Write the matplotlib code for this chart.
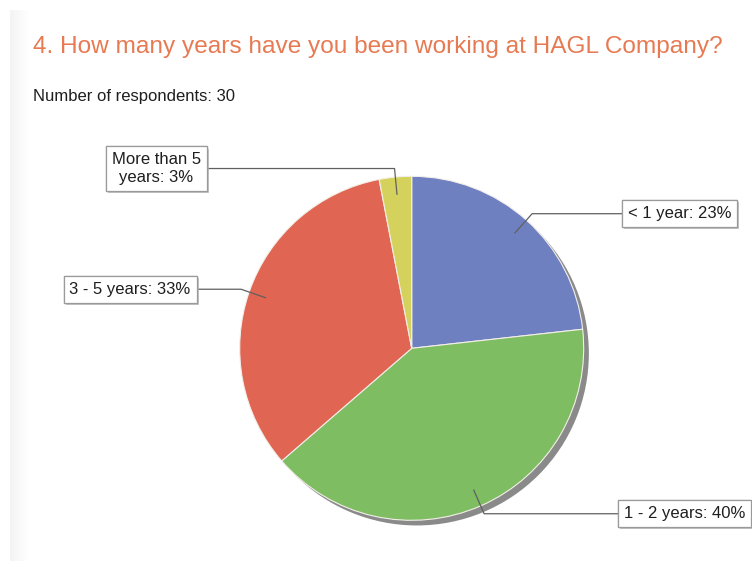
import numpy as np
import matplotlib
matplotlib.use("Agg")
from matplotlib import pyplot as plt
from matplotlib import patheffects
from matplotlib.patches import Circle

plt.rcParams['font.family'] = ['Liberation Sans', 'DejaVu Sans']

title = '4. How many years have you been working at HAGL Company?'
subtitle = 'Number of respondents: 30'
categories = ['< 1 year', '1 - 2 years', '3 - 5 years', 'More than 5\nyears']
percents = [23, 40, 33, 3]
colors = ['#6f80c1', '#7fbd62', '#e06552', '#d4d25c']

W, H = 752, 561
cx, cy, R = 411.7, 348.3, 172.0   # pie centre and radius in pixels

fig = plt.figure(figsize=(W / 100, H / 100), dpi=100, facecolor='w')

# faint grey strip down the left side
strip = fig.add_axes([10 / W, 0, 20 / W, (H - 10) / H])
strip.imshow(np.linspace(0.955, 1.0, 50)[None, :], cmap='gray', vmin=0, vmax=1,
             aspect='auto', extent=(0, 1, 0, 1))
strip.axis('off')

fig.text(33 / W, 1 - 46.5 / H, title, fontsize=17.6, color='#e77a52', va='center', ha='left')
fig.text(33 / W, 1 - 96 / H, subtitle, fontsize=12, color='#1e1e1e', va='center', ha='left')

ax = fig.add_axes([(cx - R) / W, (H - cy - R) / H, 2 * R / W, 2 * R / H])
shadow = Circle((0.03, -0.03), 1.0, facecolor='#8a8a8a', edgecolor='none', zorder=0)
shadow.set_clip_on(False)
ax.add_patch(shadow)
wedges, _ = ax.pie(percents, colors=colors, startangle=90, counterclock=False,
                   wedgeprops=dict(edgecolor='#f3efe9', linewidth=0.8, zorder=1))
ax.set_xlim(-1, 1)
ax.set_ylim(-1, 1)
ax.axis('off')

# label box anchors (x in pie units) and alignment
label_x = [1.255, 1.232, -1.285, -1.484]
label_ha = ['left', 'left', 'right', 'center']

box = dict(boxstyle='square,pad=0.35', facecolor='white', edgecolor='#9a9a9a', linewidth=0.9,
           path_effects=[patheffects.withSimplePatchShadow(offset=(1.5, -1.5),
                                                           shadow_rgbFace='#b0b0b0', alpha=0.7),
                         patheffects.Normal()])

for w, name, pct, lx, ha in zip(wedges, categories, percents, label_x, label_ha):
    ang = np.deg2rad((w.theta1 + w.theta2) / 2)
    tip = (0.9 * np.cos(ang), 0.9 * np.sin(ang))
    elbow = (1.05 * np.cos(ang), 1.05 * np.sin(ang))
    ax.plot([tip[0], elbow[0], lx], [tip[1], elbow[1], elbow[1]], color='#606060',
            linewidth=0.9, clip_on=False, zorder=2)
    ax.text(lx, elbow[1], '{}: {}%'.format(name, pct), fontsize=12, color='#1e1e1e',
            ha=ha, va='center', multialignment='center', bbox=box, zorder=3, clip_on=False)

plt.savefig('out.png', dpi=100)
plt.close()
